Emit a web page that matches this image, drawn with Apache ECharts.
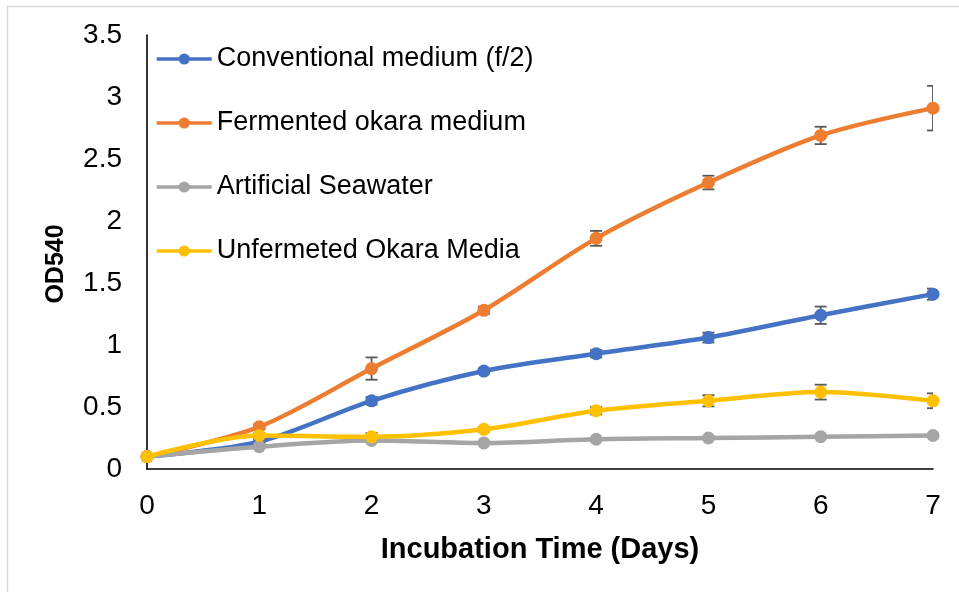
<!DOCTYPE html>
<html>
<head>
<meta charset="utf-8">
<script src="https://cdn.jsdelivr.net/npm/echarts@6/dist/echarts.min.js"></script>
<style>html,body{margin:0;padding:0;background:#fff;}#c{width:959px;height:592px;}</style>
</head>
<body>
<div id="c"></div>
<script>
var days = [0, 1, 2, 3, 4, 5, 6, 7];
var seriesNames = ['Conventional medium (f/2)', 'Fermented okara medium', 'Artificial Seawater', 'Unfermeted Okara Media'];
var conventional = [0.10, 0.22, 0.55, 0.79, 0.93, 1.06, 1.24, 1.41];
var fermented = [0.10, 0.34, 0.81, 1.28, 1.86, 2.31, 2.69, 2.91];
var seawater = [0.10, 0.18, 0.23, 0.21, 0.24, 0.25, 0.26, 0.27];
var unfermented = [0.10, 0.27, 0.26, 0.32, 0.47, 0.55, 0.62, 0.55];
var conventionalErr = [0.01, 0.02, 0.03, 0.02, 0.03, 0.04, 0.07, 0.045];
var fermentedErr = [0.01, 0.02, 0.09, 0.03, 0.06, 0.055, 0.07, 0.18];
var seawaterErr = [0.01, 0.01, 0.01, 0.01, 0.01, 0.01, 0.01, 0.01];
var unfermentedErr = [0.01, 0.02, 0.03, 0.02, 0.03, 0.045, 0.06, 0.06];
var yTicks = [0, 0.5, 1, 1.5, 2, 2.5, 3, 3.5];

var colors = ['#4472C4', '#ED7D31', '#A5A5A5', '#FFC000'];
var allVals = [conventional, fermented, seawater, unfermented];
var allErr = [conventionalErr, fermentedErr, seawaterErr, unfermentedErr];
var font = 'Liberation Sans, Arial, sans-serif';

var series = [];
allVals.forEach(function (vals, i) {
  series.push({
    type: 'custom',
    clip: true,
    z: 1,
    silent: true,
    data: days.map(function (d, k) { return [d, vals[k] - allErr[i][k], vals[k] + allErr[i][k]]; }),
    renderItem: function (params, api) {
      var x = api.value(0);
      var lo = api.coord([x, api.value(1)]);
      var hi = api.coord([x, api.value(2)]);
      var hw = 6;
      var st = { stroke: '#595959', lineWidth: 1.8 };
      return {
        type: 'group',
        children: [
          { type: 'line', shape: { x1: lo[0], y1: lo[1], x2: hi[0], y2: hi[1] }, style: st },
          { type: 'line', shape: { x1: lo[0] - hw, y1: lo[1], x2: lo[0] + hw, y2: lo[1] }, style: st },
          { type: 'line', shape: { x1: hi[0] - hw, y1: hi[1], x2: hi[0] + hw, y2: hi[1] }, style: st }
        ]
      };
    }
  });
});
allVals.forEach(function (vals, i) {
  series.push({
    name: seriesNames[i],
    type: 'line',
    smooth: 0.3,
    data: days.map(function (d, k) { return [d, vals[k]]; }),
    symbol: 'circle',
    symbolSize: 13,
    lineStyle: { width: 4.5, color: colors[i] },
    itemStyle: { color: colors[i], borderWidth: 0 },
    z: 2 + i,
    emphasis: { disabled: true }
  });
});

var chart = echarts.init(document.getElementById('c'), null, { renderer: 'canvas' });
chart.setOption({
  animation: false,
  backgroundColor: '#fff',
  color: colors,
  graphic: [{
    type: 'rect',
    shape: { x: 7.5, y: 6.5, width: 1000, height: 1000 },
    style: { fill: 'none', stroke: '#d9d9d9', lineWidth: 1.5 },
    silent: true
  }],
  grid: { left: 147, right: 26, top: 35, bottom: 123, containLabel: false },
  legend: {
    orient: 'vertical',
    left: 150,
    top: 39,
    itemWidth: 55,
    itemHeight: 14,
    itemGap: 34,
    data: seriesNames,
    lineStyle: { width: 3.5 },
    textStyle: { fontFamily: font, fontSize: 27, color: '#000', lineHeight: 30 }
  },
  xAxis: {
    type: 'value',
    min: 0, max: 7, interval: 1,
    name: 'Incubation Time (Days)',
    nameLocation: 'middle',
    nameGap: 66,
    nameTextStyle: { fontFamily: font, fontSize: 29, fontWeight: 'bold', color: '#000' },
    axisLine: { show: true, lineStyle: { color: '#000', width: 1.6 } },
    axisTick: { show: false },
    splitLine: { show: false },
    axisLabel: { fontFamily: font, fontSize: 28, color: '#000', margin: 23 }
  },
  yAxis: {
    type: 'value',
    min: yTicks[0], max: yTicks[yTicks.length - 1], interval: 0.5,
    name: 'OD540',
    nameLocation: 'middle',
    nameGap: 78,
    nameTextStyle: { fontFamily: font, fontSize: 25, fontWeight: 'bold', color: '#000', padding: [0, 24, 0, 0] },
    axisLine: { show: true, lineStyle: { color: '#000', width: 1.6 } },
    axisTick: { show: false },
    splitLine: { show: false },
    axisLabel: { fontFamily: font, fontSize: 28, color: '#000', margin: 25 }
  },
  series: series
});
</script>
</body>
</html>
